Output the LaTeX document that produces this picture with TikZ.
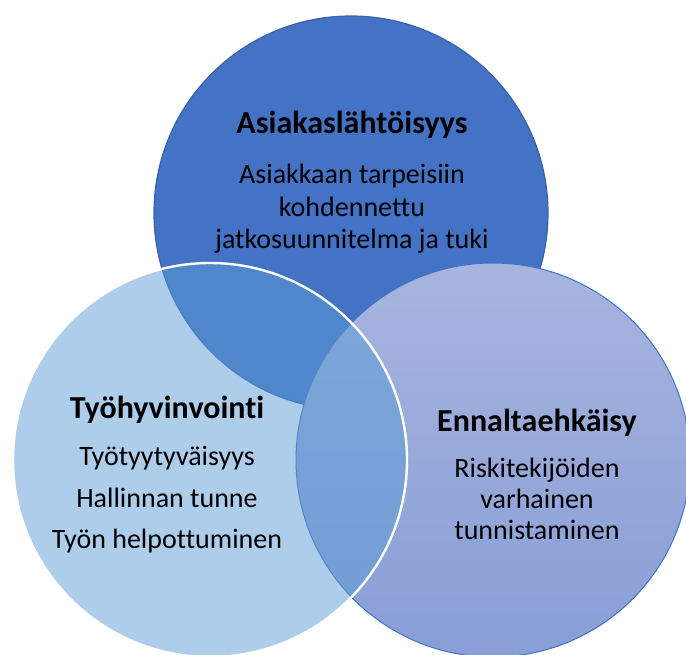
\documentclass[tikz,border=0pt]{standalone}
\usepackage{fontspec}
\setmainfont{Carlito}[Ligatures=NoCommon]
\usetikzlibrary{positioning}
\definecolor{topblue}{HTML}{4472C4}
\definecolor{topedge}{HTML}{3962AD}
\definecolor{leftblue}{HTML}{5B9BD5}
\definecolor{rightup}{HTML}{A7B4DE}
\definecolor{rightdown}{HTML}{889ED6}

\begin{document}
\begin{tikzpicture}[x=0.5pt,y=-0.5pt, venn/.style={circle,minimum size=197pt,inner sep=0pt}, head/.style={font=\bfseries\fontsize{16}{19}\selectfont,inner sep=0pt}, body/.style={align=center,inner sep=0pt}]
\useasboundingbox (0,0) rectangle (686,654);
\node[venn,fill=topblue,draw=topedge,line width=0.6pt] (asiakas) at (351,213) {};
\node[venn,top color=rightup,bottom color=rightdown,draw=topblue,line width=0.5pt] (ennalta) at (493,460) {};
\node[venn,fill=leftblue,fill opacity=0.5,draw=white,line width=1.2pt] (tyo) at (210,460) {};
% otsikot
\node[head] (asiakashead) at (352,125) {Asiakaslähtöisyys};
\node[head] (tyohead) at (167,410) {Työhyvinvointi};
\node[head] (ennaltahead) at (537,423) {Ennaltaehkäisy};
% tekstit
\node[body,font=\fontsize{14}{16.25}\selectfont,below=12.5pt of asiakashead] (asiakastext) {Asiakkaan tarpeisiin\\kohdennettu\\jatkosuunnitelma ja tuki};
\node[body,font=\fontsize{14}{20.75}\selectfont,below=11pt of tyohead] (tyotext) {Työtyytyväisyys\\Hallinnan tunne\\Työn helpottuminen};
\node[body,font=\fontsize{14}{15.5}\selectfont,below=10.5pt of ennaltahead] (ennaltatext) {Riskitekijöiden\\varhainen\\tunnistaminen};
\end{tikzpicture}
\end{document}
